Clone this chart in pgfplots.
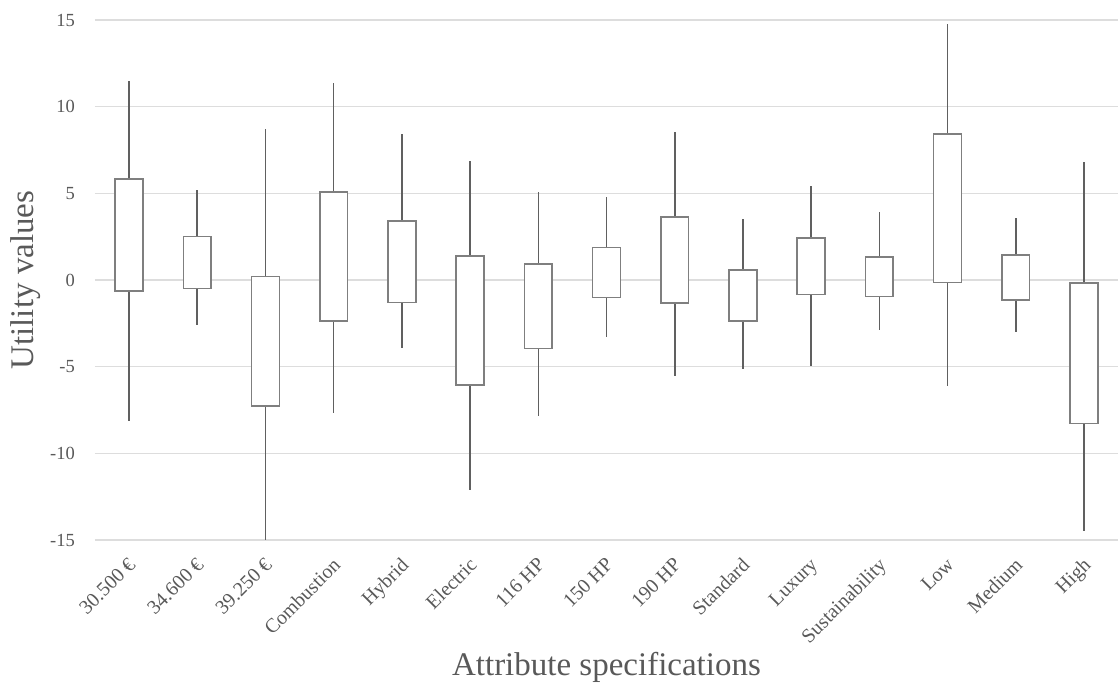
\documentclass[border=0pt]{standalone}
\usepackage{pgfplots}
\pgfplotsset{compat=1.18}
\usepgfplotslibrary{statistics}
\usepackage{fontspec}
\setmainfont{Liberation Serif}
\definecolor{txt}{HTML}{595959}
\definecolor{boxc}{HTML}{7F7F7F}
\definecolor{whc}{HTML}{606060}
\definecolor{gridc}{HTML}{DDDDDD}
\begin{document}
\begin{tikzpicture}
\begin{axis}[
  at={(0pt,0pt)}, anchor=south west,
  width=1023pt, height=520pt, scale only axis,
  xmin=-0.5, xmax=14.5, ymin=-15, ymax=15,
  clip=false,
  axis line style={draw=none},
  major tick length=0pt,
  ytick={-15,-10,-5,0,5,10,15},
  yticklabels={-15,-10,-5,0,5,10,15},
  ymajorgrids,
  grid style={gridc, line width=1.3pt},
  xtick={0,1,2,3,4,5,6,7,8,9,10,11,12,13,14},
  xticklabels={30.500 €,34.600 €,39.250 €,Combustion,Hybrid,Electric,116 HP,150 HP,190 HP,Standard,Luxury,Sustainability,Low,Medium,High},
  xticklabel style={xshift=-2pt, yshift=-15pt, rotate=45, anchor=north east, inner sep=1pt, font=\fontsize{20}{24}\selectfont, text=txt},
  yticklabel style={anchor=east, inner sep=0pt, xshift=-20pt, font=\fontsize{18.5}{22}\selectfont, text=txt},
  xlabel={Attribute specifications},
  ylabel={Utility values},
  xlabel style={at={(axis description cs:0.5,-0.2615)}, anchor=base, font=\fontsize{33}{40}\selectfont, text=txt},
  ylabel style={at={(axis description cs:-0.0606,0.5)}, anchor=base, font=\fontsize{33}{40}\selectfont, text=txt},
  boxplot/draw direction=y,
  boxplot/box extend=0.41,
  boxplot/whisker extend=0,
  boxplot/every box/.style={draw=boxc, line width=1.6pt, fill=white},
  boxplot/every whisker/.style={draw=whc, line width=1.6pt},
  boxplot/every median/.style={draw=boxc, line width=1.6pt},
]
\addplot[boxplot prepared={draw position=0, lower whisker=-8.14, lower quartile=-0.63, median=-0.63, upper quartile=5.81, upper whisker=11.48}] coordinates {};
\addplot[boxplot prepared={draw position=1, lower whisker=-2.6, lower quartile=-0.5, median=-0.5, upper quartile=2.50, upper whisker=5.19}] coordinates {};
\addplot[boxplot prepared={draw position=2, lower whisker=-15, lower quartile=-7.27, median=-7.27, upper quartile=0.2, upper whisker=8.70}] coordinates {};
\addplot[boxplot prepared={draw position=3, lower whisker=-7.65, lower quartile=-2.37, median=-2.37, upper quartile=5.08, upper whisker=11.39}] coordinates {};
\addplot[boxplot prepared={draw position=4, lower whisker=-3.95, lower quartile=-1.29, median=-1.29, upper quartile=3.40, upper whisker=8.41}] coordinates {};
\addplot[boxplot prepared={draw position=5, lower whisker=-12.1, lower quartile=-6.06, median=-6.06, upper quartile=1.38, upper whisker=6.89}] coordinates {};
\addplot[boxplot prepared={draw position=6, lower whisker=-7.85, lower quartile=-3.96, median=-3.96, upper quartile=0.91, upper whisker=5.10}] coordinates {};
\addplot[boxplot prepared={draw position=7, lower whisker=-3.27, lower quartile=-1.02, median=-1.02, upper quartile=1.87, upper whisker=4.79}] coordinates {};
\addplot[boxplot prepared={draw position=8, lower whisker=-5.56, lower quartile=-1.33, median=-1.33, upper quartile=3.62, upper whisker=8.56}] coordinates {};
\addplot[boxplot prepared={draw position=9, lower whisker=-5.15, lower quartile=-2.37, median=-2.37, upper quartile=0.58, upper whisker=3.54}] coordinates {};
\addplot[boxplot prepared={draw position=10, lower whisker=-4.96, lower quartile=-0.84, median=-0.84, upper quartile=2.42, upper whisker=5.43}] coordinates {};
\addplot[boxplot prepared={draw position=11, lower whisker=-2.9, lower quartile=-0.96, median=-0.96, upper quartile=1.33, upper whisker=3.92}] coordinates {};
\addplot[boxplot prepared={draw position=12, lower whisker=-6.12, lower quartile=-0.15, median=-0.15, upper quartile=8.41, upper whisker=14.79}] coordinates {};
\addplot[boxplot prepared={draw position=13, lower whisker=-3.0, lower quartile=-1.15, median=-1.15, upper quartile=1.44, upper whisker=3.56}] coordinates {};
\addplot[boxplot prepared={draw position=14, lower whisker=-14.5, lower quartile=-8.27, median=-8.27, upper quartile=-0.19, upper whisker=6.81}] coordinates {};
\end{axis}
\pgfresetboundingbox
\path[use as bounding box] (-95pt,-146pt) rectangle (1023pt,540pt);
\end{tikzpicture}
\end{document}
